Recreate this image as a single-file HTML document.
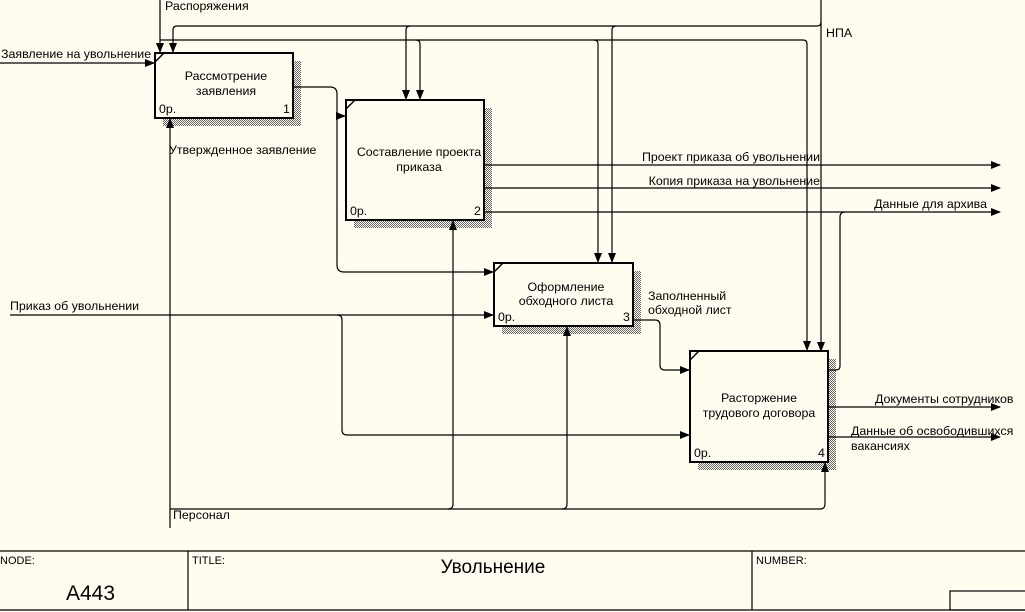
<!DOCTYPE html>
<html><head><meta charset="utf-8">
<style>
html,body{margin:0;padding:0;background:#fffcf0;}
svg{display:block;}
text{font-family:"Liberation Sans","DejaVu Sans",sans-serif;font-size:12.4px;fill:#000;}
</style></head>
<body>
<svg width="1025" height="612" viewBox="0 0 1025 612" xmlns="http://www.w3.org/2000/svg">
<defs>
<pattern id="dots" width="2" height="2" patternUnits="userSpaceOnUse">
<rect width="2" height="2" fill="#fffcf0"/><rect width="1" height="1" fill="#666"/><rect x="1" y="1" width="1" height="1" fill="#666"/>
</pattern>
<marker id="ar" markerWidth="10" markerHeight="8" refX="9" refY="4" orient="auto" markerUnits="userSpaceOnUse">
<path d="M0,0 L10,4 L0,8 z" fill="#000"/>
</marker>
</defs>
<rect width="1025" height="612" fill="#fffcf0"/>

<rect x="163" y="61" width="138" height="65" fill="url(#dots)"/>
<rect x="354" y="108" width="138" height="120" fill="url(#dots)"/>
<rect x="502" y="271" width="139" height="63" fill="url(#dots)"/>
<rect x="698" y="359" width="138" height="111" fill="url(#dots)"/>

<g fill="none" stroke="#000" stroke-width="1.2">
<path d="M821,0 V351" marker-end="url(#ar)"/>
<path d="M821,22 Q821,26 817,26 H177 Q173,26 173,30 V52" marker-end="url(#ar)"/>
<path d="M410,26 Q406,26 406,30 V99" marker-end="url(#ar)"/>
<path d="M616,26 Q612,26 612,30 V262" marker-end="url(#ar)"/>
<path d="M160,0 V52" marker-end="url(#ar)"/>
<path d="M160,40 H803 Q807,40 807,44 V350" marker-end="url(#ar)"/>
<path d="M416,40 Q420,40 420,44 V99" marker-end="url(#ar)"/>
<path d="M594,40 Q598,40 598,44 V262" marker-end="url(#ar)"/>
<path d="M0,63 H154" marker-end="url(#ar)"/>
<path d="M293,87 H330 Q337,87 337,94 V265 Q337,272 344,272 H493" marker-end="url(#ar)"/>
<path d="M337,116 H345" marker-end="url(#ar)"/>
<path d="M484,165 H1000" marker-end="url(#ar)"/>
<path d="M484,188 H1000" marker-end="url(#ar)"/>
<path d="M484,212 H1000" marker-end="url(#ar)"/>
<path d="M828,370 H836 Q840,370 840,366 V217 Q840,212 845,212"/>
<path d="M10,315 H493" marker-end="url(#ar)"/>
<path d="M337,315 Q342,315 342,320 V430 Q342,435 347,435 H689" marker-end="url(#ar)"/>
<path d="M633,320 H655 Q660,320 660,325 V365 Q660,370 665,370 H689" marker-end="url(#ar)"/>
<path d="M828,407 H1000" marker-end="url(#ar)"/>
<path d="M828,437 H1000" marker-end="url(#ar)"/>
<path d="M170,528 V119" marker-end="url(#ar)"/>
<path d="M170,509 H820 Q825,509 825,504 V463" marker-end="url(#ar)"/>
<path d="M448,509 Q453,509 453,504 V221" marker-end="url(#ar)"/>
<path d="M562,509 Q567,509 567,504 V327" marker-end="url(#ar)"/>
</g>

<g fill="#fffcf0" stroke="#000" stroke-width="2">
<rect x="155" y="53" width="138" height="65"/>
<rect x="346" y="100" width="138" height="120"/>
<rect x="494" y="263" width="139" height="63"/>
<rect x="690" y="351" width="138" height="111"/>
</g>
<g stroke="#000" stroke-width="1.5">
<line x1="155" y1="62" x2="164" y2="53"/>
<line x1="346" y1="109" x2="355" y2="100"/>
<line x1="494" y1="272" x2="503" y2="263"/>
<line x1="690" y1="360" x2="699" y2="351"/>
</g>

<text x="226" y="80" text-anchor="middle">Рассмотрение</text>
<text x="226" y="95" text-anchor="middle">заявления</text>
<text x="159" y="113">0р.</text><text x="283" y="113">1</text>
<text x="419" y="156" text-anchor="middle">Составление проекта</text>
<text x="419" y="171" text-anchor="middle">приказа</text>
<text x="350" y="215">0р.</text><text x="474" y="215">2</text>
<text x="566" y="291" text-anchor="middle">Оформление</text>
<text x="566" y="305" text-anchor="middle">обходного листа</text>
<text x="498" y="321">0р.</text><text x="623" y="321">3</text>
<text x="759" y="402" text-anchor="middle">Расторжение</text>
<text x="759" y="417" text-anchor="middle">трудового договора</text>
<text x="694" y="457">0р.</text><text x="818" y="457">4</text>

<text x="165" y="10">Распоряжения</text>
<text x="826" y="37">НПА</text>
<text x="1" y="58">Заявление на увольнение</text>
<text x="169" y="154">Утвержденное заявление</text>
<text x="820" y="161" text-anchor="end">Проект приказа об увольнении</text>
<text x="820" y="185" text-anchor="end">Копия приказа на увольнение</text>
<text x="987" y="208" text-anchor="end">Данные для архива</text>
<text x="10" y="310">Приказ об увольнении</text>
<text x="648" y="300">Заполненный</text>
<text x="648" y="314">обходной лист</text>
<text x="875" y="403">Документы сотрудников</text>
<text x="851" y="435">Данные об освободившихся</text>
<text x="851" y="450">вакансиях</text>
<text x="173" y="519">Персонал</text>

<g stroke="#000" stroke-width="1.2" fill="none">
<line x1="0" y1="551" x2="1025" y2="551"/>
<line x1="0" y1="610" x2="1025" y2="610"/>
<line x1="188" y1="551" x2="188" y2="610"/>
<line x1="752" y1="551" x2="752" y2="610"/>
<rect x="950" y="591" width="80" height="19"/>
</g>
<text x="0" y="564" style="font-size:11px">NODE:</text>
<text x="192" y="564" style="font-size:11px">TITLE:</text>
<text x="756" y="564" style="font-size:11px">NUMBER:</text>
<text x="493" y="573" text-anchor="middle" style="font-size:19px">Увольнение</text>
<text x="66" y="600" style="font-size:21px">A443</text>
</svg>
</body></html>
